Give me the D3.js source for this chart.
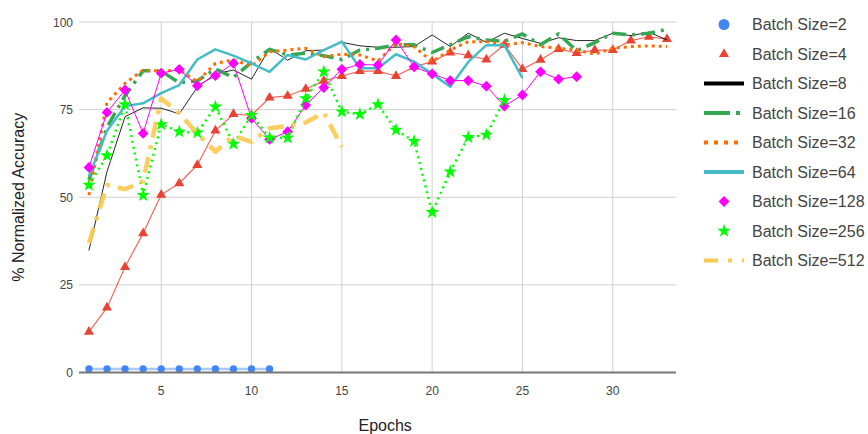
<!DOCTYPE html>
<html><head><meta charset="utf-8">
<script src="https://cdn.jsdelivr.net/npm/d3@7"></script>
<style>body{margin:0;background:#fff}svg{display:block;font-family:"Liberation Sans",Arial,sans-serif}</style>
</head><body><svg id="c" width="868" height="434"></svg>
<script>
const epochs = d3.range(1, 34);
const bs2   = [1,1,1,1,1,1,1,1,1,1,1];
const bs4   = [11.6,18.5,30.1,39.7,50.7,54,59.2,69,73.7,73.4,78.4,78.9,80.9,83.2,84.6,86,86,84.6,87.2,88.7,91.3,90.5,89.3,93.5,86.6,89.2,92.3,91.1,92,92,94.7,95.8,95.1];
const bs8   = [34.8,57.3,73,75.5,75.4,73.8,81.4,85.2,86.3,83.7,92.5,89.1,91.8,92,94.2,93.2,92.8,92.8,93,96.3,93,96.8,94.2,96.8,95.3,93.9,95.5,94.7,94.7,96.8,96.1,97.1,94.9];
const bs16  = [55,70,79,86.1,86,82.7,83.2,86.6,84.2,88.5,92.2,90.6,91.1,90.4,89.3,92,92.5,93.5,93.5,91.3,93.5,95.8,94.9,94.5,96.6,93.5,96.6,91.8,94.1,96.8,96.3,96.8,97.9];
const bs32  = [50.6,77,82.5,86.3,86,86.3,83,88.2,89.2,87.4,91.5,92,92.5,90.1,90.8,90.6,88.9,93.9,93,88.7,92,94.4,94.4,93.5,94.1,93,92.5,92,90.8,92.5,93,93.2,93];
const bs64  = [56,69,76,76.8,79.7,82,89.3,92.2,90.4,88.2,85.8,90.6,89.3,92,94.4,86.8,86.8,90.8,88.7,85.2,81.5,88.6,93.4,93.4,84];
const bs128 = [58.5,74.2,80.6,68.2,85.4,86.5,81.8,84.7,88.2,72.5,66.5,68.7,76.3,81.3,86.5,87.9,87.7,94.9,87.2,85.2,83.3,83.3,81.7,76,79.2,85.8,83.7,84.4];
const bs256 = [53.5,61.9,76.5,50.6,70.8,68.7,68.4,75.8,65.2,73.4,67,67,78.2,85.8,74.4,73.7,76.5,69.2,66,45.7,57.3,67.1,67.8,77.7];
const bs512 = [36.9,53.5,52.3,54.6,78.2,74,68.2,63,67.5,65.8,69.7,70.3,71.3,74.1,64.4];
const seriesNames = ["Batch Size=2","Batch Size=4","Batch Size=8","Batch Size=16","Batch Size=32","Batch Size=64","Batch Size=128","Batch Size=256","Batch Size=512"];
const xTicks = [5,10,15,20,25,30];
const yTicks = [0,25,50,75,100];

const svg = d3.select("#c");
const x = d3.scaleLinear().domain([0.45, 33.5]).range([79, 676]);
const y = d3.scaleLinear().domain([0, 100]).range([372.5, 22]);

// grid
svg.append("g").selectAll("line").data(xTicks).join("line")
  .attr("x1", d => x(d)).attr("x2", d => x(d)).attr("y1", y(100)).attr("y2", y(0))
  .attr("stroke", "#d0d0d0").attr("stroke-width", 1);
svg.append("g").selectAll("line").data(yTicks.filter(d => d > 0)).join("line")
  .attr("x1", x.range()[0]).attr("x2", x.range()[1]).attr("y1", d => y(d)).attr("y2", d => y(d))
  .attr("stroke", "#d0d0d0").attr("stroke-width", 1);

// tick labels
svg.append("g").selectAll("text").data(yTicks).join("text")
  .attr("x", 73).attr("y", d => y(d) + 4.5).attr("text-anchor", "end")
  .attr("font-size", 12).attr("fill", "#444").text(d => d);
svg.append("g").selectAll("text").data(xTicks).join("text")
  .attr("x", d => x(d)).attr("y", 395).attr("text-anchor", "middle")
  .attr("font-size", 12).attr("fill", "#444").text(d => d);

svg.append("text").attr("x", x(17.4)).attr("y", 431).attr("text-anchor", "middle")
  .attr("font-size", 16).attr("fill", "#222").text("Epochs");
svg.append("text").attr("transform", `translate(24,${y(50)}) rotate(-90)`).attr("text-anchor", "middle")
  .attr("font-size", 16).attr("fill", "#222").text("% Normalized Accuracy");

const styles = [
  {data: bs2,   color: "#4285f4", width: 2.5, dash: null, opacity: 0.45, marker: "circle"},
  {data: bs4,   color: "#ea4335", width: 1.2, dash: null, opacity: 0.8, marker: "triangle"},
  {data: bs8,   color: "#000000", width: 1, dash: null, opacity: 0.85, marker: null},
  {data: bs16,  color: "#34a853", width: 3.5, dash: "14,6,3,6", opacity: 1, marker: null},
  {data: bs32,  color: "#ff6d01", width: 3, dash: "3,4", opacity: 1, marker: null},
  {data: bs64,  color: "#46bdc6", width: 2.5, dash: null, opacity: 1, marker: null},
  {data: bs128, color: "#ff00ff", width: 1, dash: null, opacity: 1, marker: "diamond"},
  {data: bs256, color: "#00ff00", width: 2.5, dash: "2,4", opacity: 1, marker: "star"},
  {data: bs512, color: "#fcc94f", width: 4.5, dash: "16,8,4,8", opacity: 0.9, marker: null},
];

const line = d3.line().x((d, i) => x(epochs[i])).y(d => y(d));
function markerPath(m) {
  if (m === "circle") return d3.symbol(d3.symbolCircle, 42)();
  if (m === "triangle") return d3.symbol(d3.symbolTriangle, 44)();
  if (m === "diamond") return d3.symbol(d3.symbolSquare, 58)();
  if (m === "star") return d3.symbol(d3.symbolStar, 58)();
  return null;
}
styles.forEach(s => {
  const g = svg.append("g");
  g.append("path").datum(s.data).attr("d", line).attr("fill", "none")
    .attr("stroke", s.color).attr("stroke-width", s.width)
    .attr("stroke-opacity", s.opacity).attr("stroke-dasharray", s.dash)
    .attr("stroke-linejoin", "round");
  if (s.marker) {
    g.selectAll("path.m").data(s.data).join("path").attr("class", "m")
      .attr("d", markerPath(s.marker))
      .attr("transform", (d, i) => `translate(${x(epochs[i])},${y(d)})` + (s.marker === "diamond" ? " rotate(45)" : ""))
      .attr("fill", s.color);
  }
});

// x axis baseline
svg.append("line").attr("x1", x.range()[0]).attr("x2", x.range()[1]).attr("y1", y(0)).attr("y2", y(0))
  .attr("stroke", "#777").attr("stroke-width", 2);

// legend
const lg = svg.append("g");
seriesNames.forEach((name, i) => {
  const s = styles[i];
  const cy = 24.5 + i * 29.5;
  const g = lg.append("g");
  if (s.marker) {
    g.append("path").attr("d", markerPath(s.marker))
      .attr("transform", `translate(724,${cy})` + (s.marker === "diamond" ? " rotate(45)" : "") + (s.marker === "circle" ? " scale(1.5)" : ""))
      .attr("fill", s.color);
  } else {
    let dash = null;
    if (i === 3) dash = "26,6,4,6";
    if (i === 4) dash = "4,6";
    if (i === 8) dash = "14,10,4,10";
    g.append("line").attr("x1", 704).attr("x2", 744).attr("y1", cy).attr("y2", cy)
      .attr("stroke", s.color).attr("stroke-width", 4).attr("stroke-dasharray", dash);
  }
  g.append("text").attr("x", 752).attr("y", cy + 5.5).attr("font-size", 16).attr("fill", "#444").text(name);
});
</script></body></html>
